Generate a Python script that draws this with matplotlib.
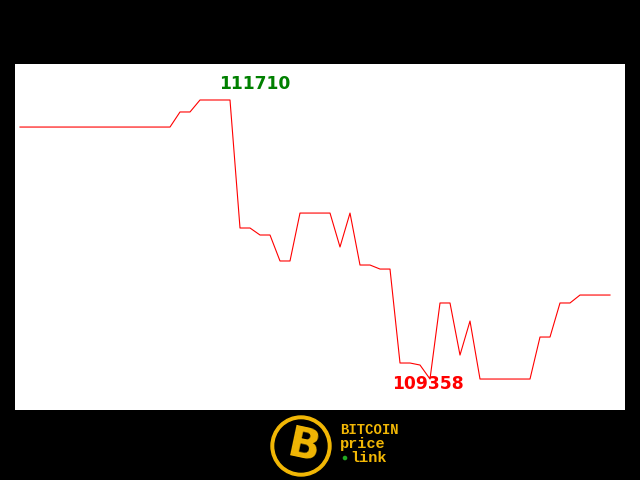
import matplotlib.pyplot as plt
from matplotlib.patches import Circle

# price series (one point every step)
prices = [111482] * 16 + [111609] * 2 + [111710] * 4 + [110631] * 2 + \
         [110572] * 2 + [110353] * 2 + [110757] * 4 + [110471, 110757] + \
         [110319] * 2 + [110285] * 2 + [109493] * 2 + [109476, 109358] + \
         [109999] * 2 + [109560, 109847] + [109358] * 6 + [109712] * 2 + \
         [109999] * 2 + [110066] * 4

fig = plt.figure(figsize=(6.4, 4.8), dpi=100, facecolor='black')
ax = fig.add_axes([15 / 640, 70 / 480, 610 / 640, 346 / 480])
ax.set_facecolor('white')

xs = list(range(len(prices)))
ax.plot(xs, prices, color='red', linewidth=0.8)

vmax = max(prices)
vmin = min(prices)
rng = vmax - vmin
imax = prices.index(vmax)
imin = prices.index(vmin)
ax.set_xlim(-0.5, len(prices) + 0.5)
ax.set_ylim(vmin - 0.111 * rng, vmax + 0.129 * rng)

ax.annotate(str(vmax), (imax, vmax), xytext=(39.6, 11.5), textcoords='offset points',
            color='green', fontsize=12.3, fontweight='bold', ha='center', va='center')
ax.annotate(str(vmin), (imin, vmin), xytext=(-1.5, -3.6), textcoords='offset points',
            color='red', fontsize=12.3, fontweight='bold', ha='center', va='center')

ax.set_xticks([])
ax.set_yticks([])
for s in ax.spines.values():
    s.set_visible(False)

# logo at the bottom
gold = '#f2b705'
lax = fig.add_axes([0, 0, 1, 70 / 480])
lax.set_xlim(0, 640)
lax.set_ylim(70, 0)
lax.set_aspect('equal')
lax.axis('off')
lax.add_patch(Circle((301, 36), 30, color=gold))
lax.add_patch(Circle((301, 36), 26, color='black'))
lax.text(303, 37, 'B', color=gold, fontsize=30, fontweight='bold',
         ha='center', va='center', rotation=-12, family='DejaVu Sans')
lax.text(340, 20, 'BITCOIN', color=gold, fontsize=10, fontweight='bold',
         family='Liberation Mono', va='center')
lax.text(340, 34, 'price', color=gold, fontsize=11, fontweight='bold',
         family='Liberation Mono', va='center')
lax.text(350, 48, 'link', color=gold, fontsize=11, fontweight='bold',
         family='Liberation Mono', va='center')
lax.add_patch(Circle((345, 48), 1.6, color='#22aa22'))

fig.savefig('out.png', dpi=100, facecolor='black')
